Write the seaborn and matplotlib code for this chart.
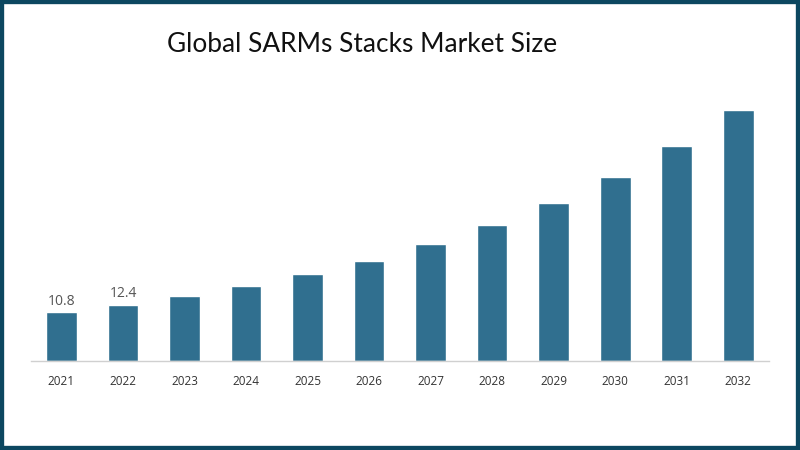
import matplotlib
matplotlib.use("Agg")
import matplotlib.pyplot as plt
import seaborn as sns
import pandas as pd
from matplotlib.patches import Rectangle

years = ["2021", "2022", "2023", "2024", "2025", "2026", "2027", "2028", "2029", "2030", "2031", "2032"]
market_size = [10.8, 12.4, 14.4, 16.6, 19.2, 22.2, 25.9, 30.1, 35.0, 40.8, 47.7, 55.7]
labeled_years = ["2021", "2022"]

df = pd.DataFrame({"year": years, "size": market_size})

sns.set_theme(style="white")
plt.rcParams['font.family'] = ['Open Sans', 'DejaVu Sans']

fig = plt.figure(figsize=(8, 4.5), dpi=100)
ax = fig.add_axes([0.0384, 0.1978, 0.9228, 0.6013])

sns.barplot(data=df, x="year", y="size", color="#306f8f", saturation=1, width=0.5, ax=ax)

for i, (y, v) in enumerate(zip(years, market_size)):
    if y in labeled_years:
        ax.text(i, v + 0.8, f"{v}", ha="center", va="bottom", fontsize=10, color="#555555")

ax.set_ylim(0, 60)
ax.set_xlim(-0.5, len(years) - 0.5)
ax.set_xlabel("")
ax.set_ylabel("")
ax.set_yticks([])
for s in ["top", "right", "left"]:
    ax.spines[s].set_visible(False)
ax.spines["bottom"].set_color("#d0d0d0")
ax.spines["bottom"].set_linewidth(1)
ax.tick_params(axis="x", length=0, pad=10, labelsize=8.5, labelcolor="#333333")

fig.text(0.453, 0.902, "Global SARMs Stacks Market Size", ha="center", va="center",
         fontsize=18.9, color="#111111", family=["Lato", "DejaVu Sans"])

fig.patches.append(Rectangle((0, 0), 1, 1, transform=fig.transFigure, fill=False,
                             edgecolor="#0c4760", linewidth=6, zorder=10))

fig.savefig("out.png", dpi=100)
